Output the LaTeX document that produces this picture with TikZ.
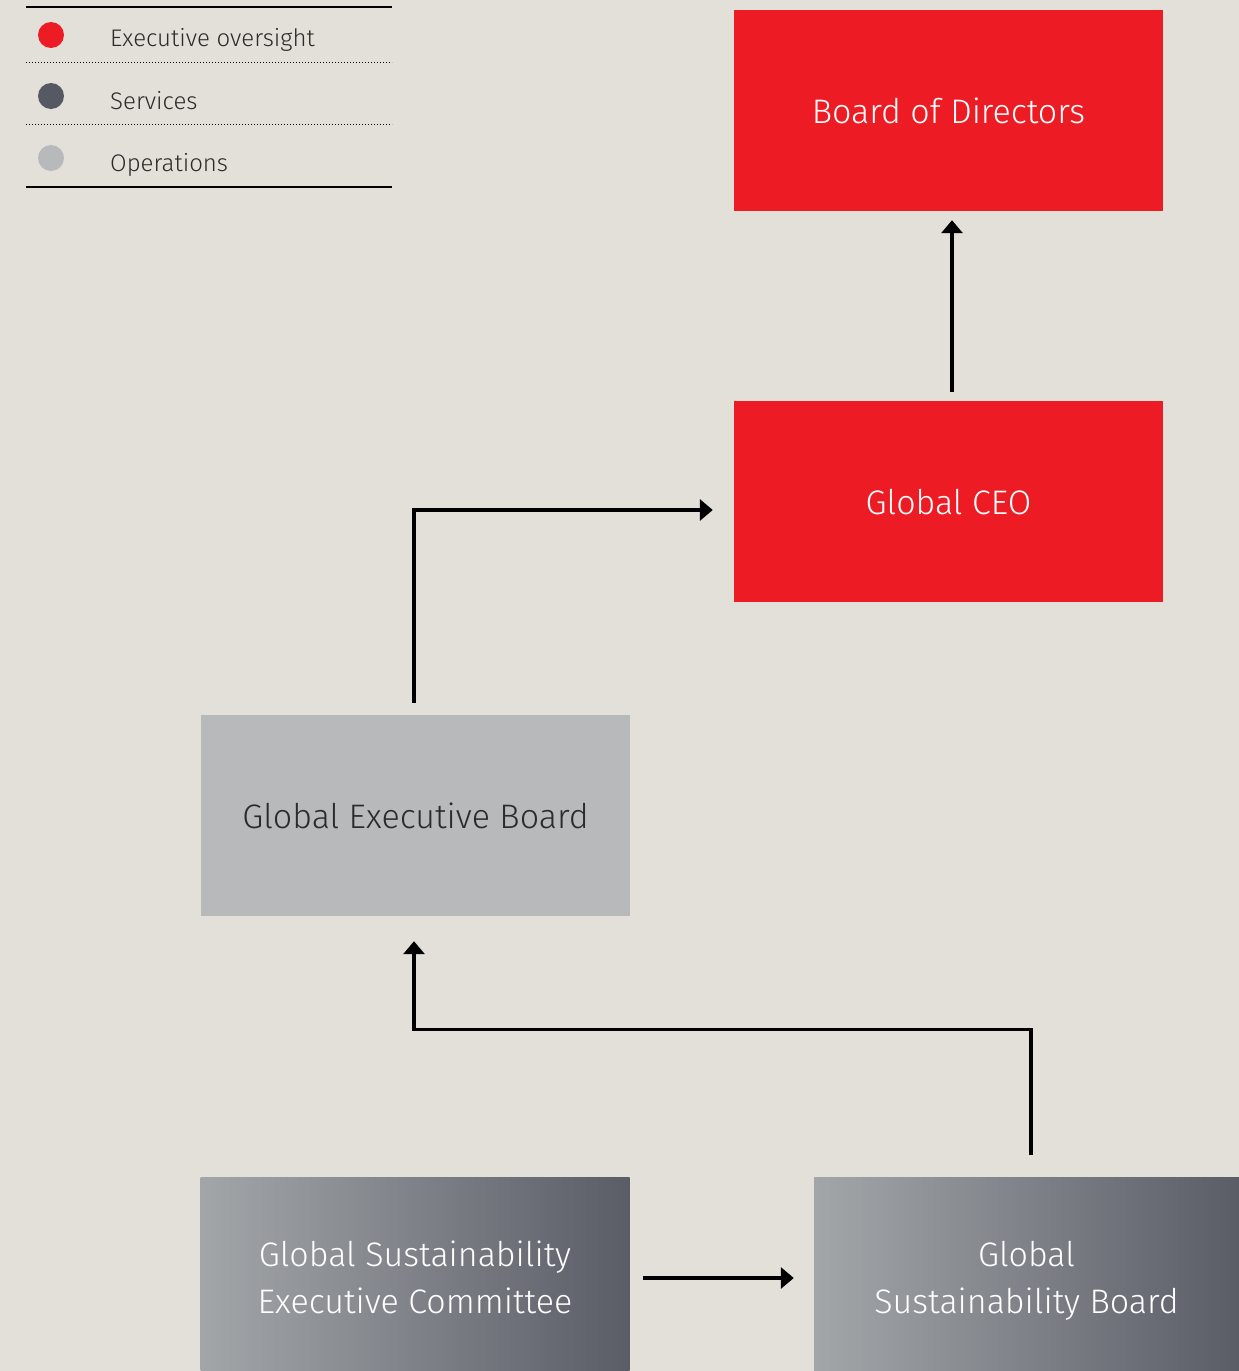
\documentclass[tikz,border=0pt]{standalone}
\usepackage{fontspec}
\setmainfont{Fira Sans}[UprightFont=* Light]
\usetikzlibrary{arrows.meta,calc}
\definecolor{bg}{HTML}{E3E0D9}
\definecolor{exred}{HTML}{ED1C24}
\definecolor{svc}{HTML}{565961}
\definecolor{ops}{HTML}{B8B9BB}
\definecolor{gradL}{HTML}{A3A6A9}
\definecolor{gradR}{HTML}{5A5D66}
\definecolor{txt}{HTML}{2B2B2B}
\tikzset{
  box/.style={rectangle, minimum width=429pt, minimum height=201pt, inner sep=0pt, align=center, text depth=0pt, font=\fontsize{34}{47}\selectfont},
  redbox/.style={box, fill=exred, text=white},
  opsbox/.style={box, fill=ops, text=txt},
  gradbox/.style={box, left color=gradL, right color=gradR, text=white},
  conn/.style={line width=3.2pt, -{Triangle[length=13pt,width=21pt]}},
  dot/.style={circle, minimum size=26pt, inner sep=0pt},
  legtext/.style={anchor=base west, inner sep=0pt, text=txt, font=\fontsize{24}{28}\selectfont}
}
\begin{document}
\begin{tikzpicture}[x=1pt,y=-1pt]
\useasboundingbox (0,0) rectangle (1239,1371);
\clip (0,0) rectangle (1239,1371);
\fill[bg] (0,0) rectangle (1239,1371);
% legend
\draw[line width=2.8pt] (26,7) -- (392,7);
\draw[line width=1pt, dotted] (26,62) -- (392,62);
\draw[line width=1pt, dotted] (26,124) -- (392,124);
\draw[line width=2.8pt] (26,187) -- (392,187);
\node[dot, fill=exred] (d1) at (51,35) {};
\node[dot, fill=svc] (d2) at (51,96) {};
\node[dot, fill=ops] (d3) at (51,158) {};
\node[legtext] (l1) at (110,46) {Executive oversight};
\node[legtext] (l2) at (110,109) {Services};
\node[legtext] (l3) at (110,171) {Operations};
% boxes
\node[redbox] (bod) at (948.5,110.5) {Board of Directors};
\node[redbox] (ceo) at (948.5,501.5) {Global CEO};
\node[opsbox] (geb) at (415.5,815.5) {Global Executive Board};
\node[gradbox] (gsec) at (415,1277.5) {Global Sustainability\\Executive Committee};
\node[gradbox, minimum width=425pt] (gsb) at (1026.5,1277.5) {Global\\Sustainability Board};
% connectors
\draw[conn, shorten <=9pt, shorten >=9pt] ($(ceo.north)+(3.5,0)$) -- ($(bod.south)+(3.5,0)$);
\draw[conn, shorten <=12pt, shorten >=21pt] ($(geb.north)+(-1.5,0)$) |- ($(ceo.west)+(0,8.5)$);
\coordinate (bend) at ($(gsb.north)+(4.5,-147)$);
\draw[conn, shorten <=22pt, shorten >=25pt] ($(gsb.north)+(4.5,0)$) -- (bend) -| ($(geb.south)+(-1.5,0)$);
\draw[conn, shorten <=13pt, shorten >=20pt] (gsec.east |- 0,1278) -- (gsb.west |- 0,1278);
\end{tikzpicture}
\end{document}
